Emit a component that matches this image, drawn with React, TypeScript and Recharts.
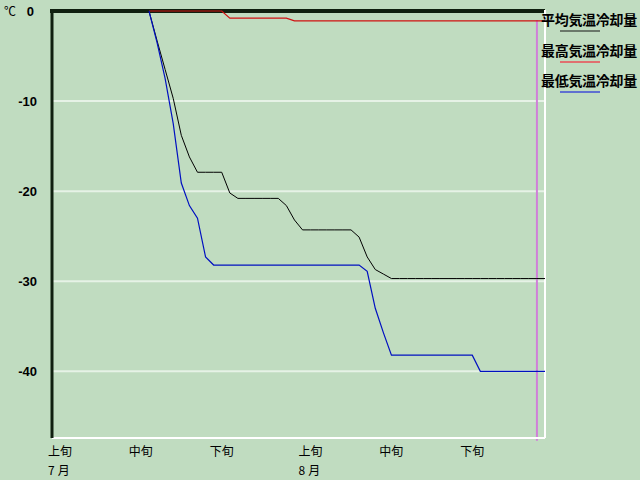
import React from "react";
import { LineChart, Line, XAxis, YAxis, CartesianGrid, ReferenceLine } from "recharts";

// Day index 0 = 7月1日 ... 61 = 8月31日
const monthLengths = [31, 31];
const monthNames = ["7月", "8月"];

const avgCooling: (number | null)[] = [
  null, null, null, null, null, null, null, null, null, null, null, null,
  0, -3.3, -6.5, -9.7, -13.8, -16.2, -17.9, -17.9, -17.9, -17.9,
  -20.2, -20.8, -20.8, -20.8, -20.8, -20.8, -20.8, -21.6, -23.2, -24.3,
  -24.3, -24.3, -24.3, -24.3, -24.3, -24.3, -25.1, -27.3, -28.7, -29.2,
  -29.7, -29.7, -29.7, -29.7, -29.7, -29.7, -29.7, -29.7, -29.7, -29.7,
  -29.7, -29.7, -29.7, -29.7, -29.7, -29.7, -29.7, -29.7, -29.7, -29.7,
];

const maxCooling: (number | null)[] = [
  null, null, null, null, null, null, null, null, null, null, null, null,
  0, 0, 0, 0, 0, 0, 0, 0, 0, 0,
  -0.8, -0.8, -0.8, -0.8, -0.8, -0.8, -0.8, -0.8, -1.1, -1.1,
  -1.1, -1.1, -1.1, -1.1, -1.1, -1.1, -1.1, -1.1, -1.1, -1.1,
  -1.1, -1.1, -1.1, -1.1, -1.1, -1.1, -1.1, -1.1, -1.1, -1.1,
  -1.1, -1.1, -1.1, -1.1, -1.1, -1.1, -1.1, -1.1, -1.1, -1.1,
];

const minCooling: (number | null)[] = [
  null, null, null, null, null, null, null, null, null, null, null, null,
  0, -3.5, -7.5, -12.5, -19.1, -21.6, -23.0, -27.3, -28.2, -28.2,
  -28.2, -28.2, -28.2, -28.2, -28.2, -28.2, -28.2, -28.2, -28.2, -28.2,
  -28.2, -28.2, -28.2, -28.2, -28.2, -28.2, -28.2, -28.9, -33.0, -35.7,
  -38.2, -38.2, -38.2, -38.2, -38.2, -38.2, -38.2, -38.2, -38.2, -38.2,
  -38.2, -40.0, -40.0, -40.0, -40.0, -40.0, -40.0, -40.0, -40.0, -40.0,
];

const xTicks = [0, 10, 20, 31, 41, 51];
const xTickLabels = ["上旬", "中旬", "下旬", "上旬", "中旬", "下旬"];
const yTicks = [0, -10, -20, -30, -40];
const markerDay = 60;

const seriesNames = ["平均気温冷却量", "最高気温冷却量", "最低気温冷却量"];
const seriesColors = ["#000000", "#d01010", "#0010c0"];
const legendColors = ["#6a786a", "#e07070", "#6070d0"];

const totalDays = monthLengths.reduce((a, b) => a + b, 0);
const data = Array.from({ length: totalDays }, (_, i) => ({
  x: i,
  avg: avgCooling[i],
  max: maxCooling[i],
  min: minCooling[i],
}));

const cjk = '"Noto Sans CJK JP", "Noto Sans", sans-serif';

const XTick = (props: any) => {
  const { x, payload } = props;
  const idx = xTicks.indexOf(payload.value);
  const monthIdx = payload.value === 0 ? 0 : payload.value === 31 ? 1 : -1;
  return (
    <g>
      <text x={x - 4} y={456} textAnchor="start" fontSize={12} fontFamily={cjk} fill="#000">
        {xTickLabels[idx]}
      </text>
      {monthIdx >= 0 && (
        <text x={x - 4} y={475} textAnchor="start" fontSize={12} fontFamily={cjk} fill="#000" letterSpacing={3}>
          {monthNames[monthIdx]}
        </text>
      )}
    </g>
  );
};

const YTick = (props: any) => {
  const { y, payload } = props;
  const xEnd = payload.value === 0 ? 34 : 37;
  return (
    <text x={xEnd} y={y + 5} textAnchor="end" fontSize={13} fontWeight="bold" fontFamily='"Liberation Sans", sans-serif' fill="#000">
      {payload.value}
    </text>
  );
};

const GridLine = (props: any) => {
  const { x1, x2, y1, y2 } = props;
  const isTop = Math.abs(y1 - 11) < 1.5;
  return (
    <line
      x1={isTop ? x1 - 2 : x1}
      x2={x2}
      y1={isTop ? y1 + 0.5 : y1}
      y2={isTop ? y2 + 0.5 : y2}
      stroke={isTop ? "#102010" : "#e6f2e6"}
      strokeWidth={isTop ? 3 : 2}
    />
  );
};

export default function App() {
  return (
    <div style={{ position: "absolute", left: 0, top: 0, width: 640, height: 480, background: "#C0DCC0", overflow: "hidden" }}>
      <LineChart width={640} height={480} data={data} margin={{ top: 10, right: 95, left: 0, bottom: 0 }}>
        <CartesianGrid vertical={false} horizontal={(p: any) => <GridLine key={p.key ?? p.index} {...p} />} />
        <XAxis
          dataKey="x"
          type="number"
          domain={[0, 61]}
          ticks={xTicks}
          tickLine={false}
          axisLine={{ stroke: "#ffffff", strokeWidth: 2 }}
          tick={<XTick />}
          height={42}
          interval={0}
        />
        <YAxis
          domain={[-47.4, 0.111]}
          ticks={yTicks}
          tickLine={false}
          axisLine={{ stroke: "#102010", strokeWidth: 3 }}
          tick={<YTick />}
          width={52}
          allowDataOverflow
        />
        <ReferenceLine x={61} stroke="#ffffff" strokeWidth={2} />
        <ReferenceLine
          segment={[{ x: markerDay, y: -1.0 }, { x: markerDay, y: -47.7 }]}
          stroke="#d080d8"
          strokeWidth={2}
          ifOverflow="visible"
        />
        <Line type="linear" dataKey="avg" stroke={seriesColors[0]} strokeWidth={1} dot={false} isAnimationActive={false} />
        <Line type="linear" dataKey="max" stroke={seriesColors[1]} strokeWidth={1.2} dot={false} isAnimationActive={false} />
        <Line type="linear" dataKey="min" stroke={seriesColors[2]} strokeWidth={1.2} dot={false} isAnimationActive={false} />
      </LineChart>
      <div style={{ position: "absolute", left: 4, top: 2, fontSize: 12, fontFamily: cjk, color: "#000" }}>℃</div>
      {seriesNames.map((name, i) => (
        <div key={name} style={{ position: "absolute", left: 541, top: 10 + i * 30.5, width: 100 }}>
          <div style={{ fontSize: 14, lineHeight: "18px", fontWeight: "bold", fontFamily: cjk, letterSpacing: -0.3, color: "#000", whiteSpace: "nowrap" }}>
            {name}
          </div>
          <div style={{ position: "absolute", left: 19, top: 20, width: 40, height: 2, background: legendColors[i] }} />
        </div>
      ))}
    </div>
  );
}
